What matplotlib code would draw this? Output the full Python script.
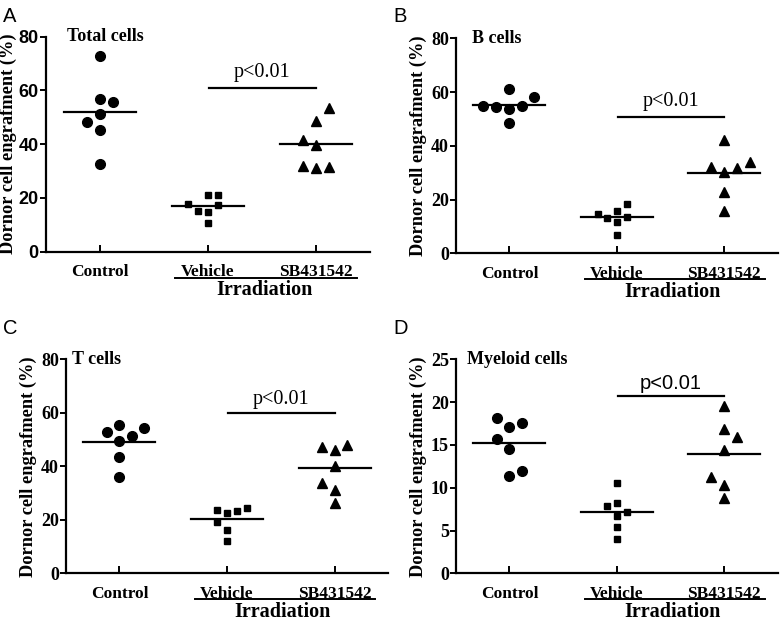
import numpy as np
import matplotlib
matplotlib.use('Agg')
import matplotlib.pyplot as plt

# ---- 数据 ----
groups = ['Control', 'Vehicle', 'SB431542']
panel_letters = ['A', 'B', 'C', 'D']
panel_titles = ['Total cells', 'B cells', 'T cells', 'Myeloid cells']
y_max = [80, 80, 80, 25]
y_ticks = [[0, 20, 40, 60, 80], [0, 20, 40, 60, 80], [0, 20, 40, 60, 80], [0, 5, 10, 15, 20, 25]]

# 每组7个点：(x偏移, 数值)
a_control = [72.9, 56.9, 55.7, 51.1, 48.1, 45.4, 32.6]
a_control_dx = [0, 0, 0.12, 0, -0.12, 0, 0]
a_vehicle = [21.1, 21.1, 17.7, 17.5, 15.3, 14.8, 10.8]
a_vehicle_dx = [0.09, 0, -0.18, 0.09, -0.09, 0, 0]
a_sb = [53.6, 48.7, 41.5, 39.6, 31.9, 31.3, 31.6]
a_sb_dx = [0.12, 0, -0.12, 0, -0.12, 0, 0.12]
a_means = [52.0, 16.9, 39.9]

b_control = [61.0, 58.3, 54.8, 54.6, 54.8, 53.6, 48.6]
b_control_dx = [0, 0.23, -0.25, -0.125, 0.12, 0, 0]
b_vehicle = [18.2, 15.9, 14.5, 13.0, 13.6, 11.8, 6.8]
b_vehicle_dx = [0.09, 0, -0.18, -0.09, 0.09, 0, 0]
b_sb = [42.2, 33.9, 32.2, 31.6, 30.4, 22.9, 15.9]
b_sb_dx = [0, 0.24, -0.12, 0.12, 0, 0, 0]
b_means = [55.2, 13.4, 30.0]

c_control = [55.5, 54.3, 52.8, 51.2, 49.5, 43.5, 36.1]
c_control_dx = [0, 0.23, -0.12, 0.12, 0, 0, 0]
c_vehicle = [24.5, 23.7, 23.3, 22.7, 19.2, 16.2, 12.1]
c_vehicle_dx = [0.19, -0.09, 0.09, 0, -0.09, 0, 0]
c_sb = [47.9, 47.4, 46.1, 40.2, 33.6, 31.2, 26.2]
c_sb_dx = [0.12, -0.12, 0, 0, -0.12, 0, 0]
c_means = [49.2, 20.2, 39.3]

d_control = [18.1, 17.6, 17.05, 15.65, 14.5, 12.0, 11.4]
d_control_dx = [-0.12, 0.12, 0, -0.12, 0, 0.12, 0]
d_vehicle = [10.6, 7.9, 8.2, 7.2, 6.7, 5.4, 4.0]
d_vehicle_dx = [0, -0.09, 0, 0.09, 0, 0, 0]
d_sb = [19.5, 16.8, 15.9, 14.4, 11.3, 10.3, 8.8]
d_sb_dx = [0, 0, 0.12, 0, -0.12, 0, 0]
d_means = [15.2, 7.17, 13.9]

p_bar_y = [60.8, 50.9, 60.1, 20.7]
p_text_y = [65.0, 54.8, 63.3, 21.5]

panels = [
    ((a_control, a_control_dx), (a_vehicle, a_vehicle_dx), (a_sb, a_sb_dx), a_means),
    ((b_control, b_control_dx), (b_vehicle, b_vehicle_dx), (b_sb, b_sb_dx), b_means),
    ((c_control, c_control_dx), (c_vehicle, c_vehicle_dx), (c_sb, c_sb_dx), c_means),
    ((d_control, d_control_dx), (d_vehicle, d_vehicle_dx), (d_sb, d_sb_dx), d_means),
]

# 布局（像素 -> 图形比例）
W, H = 783, 622
axes_px = [(45.7, 36.7, 324.3, 215), (455.7, 38.3, 322.3, 215),
           (65.7, 359.3, 322.6, 214), (455.7, 359.3, 322.3, 214)]
title_x = [0.70, 0.65, 0.556, 0.608]
letter_px = [(3, 7), (393, 7), (3, 319), (393, 319)]

serif = 'Liberation Serif'
sans = 'Liberation Sans'

fig = plt.figure(figsize=(W / 100, H / 100), dpi=100)

markers = ['o', 's', '^']
msizes = [7, 5, 7]

for i, (px, py, pw, ph) in enumerate(axes_px):
    ax = fig.add_axes([px / W, 1 - (py + ph) / H, pw / W, ph / H])
    ctrl, veh, sb, means = panels[i]
    for g, (vals, dx) in enumerate([ctrl, veh, sb]):
        xs = np.array(dx) + g + 1
        ax.plot(xs, vals, linestyle='none', marker=markers[g], ms=msizes[g],
                color='black', clip_on=False)
        ax.plot([g + 1 - 0.335, g + 1 + 0.335], [means[g], means[g]], color='black', lw=1.6)

    ax.set_xlim(0.5, 3.5)
    ax.set_ylim(0, y_max[i])
    ax.spines['top'].set_visible(False)
    ax.spines['right'].set_visible(False)
    ax.spines['left'].set_linewidth(1.6)
    ax.spines['bottom'].set_linewidth(1.6)
    ax.set_xticks([1, 2, 3])
    ax.set_xticklabels(groups, fontfamily=serif, fontweight='bold', fontsize=12.5)
    ax.set_yticks(y_ticks[i])
    ytf = sans if i == 0 else serif
    ax.set_yticklabels([str(t) for t in y_ticks[i]], fontfamily=ytf, fontweight='bold', fontsize=13)
    ax.tick_params(axis='x', direction='in', length=5, width=1.4, pad=9)
    ax.tick_params(axis='y', direction='out', length=4, width=1.4, pad=1)

    ax.set_ylabel('Dornor cell engrafment (%)', fontfamily=serif, fontweight='bold',
                  fontsize=13.2)
    ax.yaxis.set_label_coords(-28.5 / pw, 0.5)

    ax.text(title_x[i], y_max[i], panel_titles[i], fontfamily=serif, fontweight='bold',
            fontsize=13, va='center', ha='left')

    # 显著性标记
    ax.plot([2.01, 3.0], [p_bar_y[i], p_bar_y[i]], color='black', lw=1.6)
    pf = sans if i == 3 else serif
    ax.text(2.5, p_text_y[i], 'p<0.01', fontfamily=pf, fontsize=14.5, ha='center', va='baseline')

    # Irradiation 分组
    trans = ax.get_xaxis_transform()
    ax.plot([1.70, 3.38], [-0.12, -0.12], transform=trans, color='black', lw=1.4, clip_on=False)
    ax.text(2.52, -0.18, 'Irradiation', transform=trans, fontfamily=serif, fontweight='bold',
            fontsize=14.5, ha='center', va='center')

    lx, ly = letter_px[i]
    fig.text(lx / W, 1 - ly / H, panel_letters[i], fontfamily=sans, fontsize=14.5,
             ha='left', va='top')

fig.savefig('out.png', dpi=100)
